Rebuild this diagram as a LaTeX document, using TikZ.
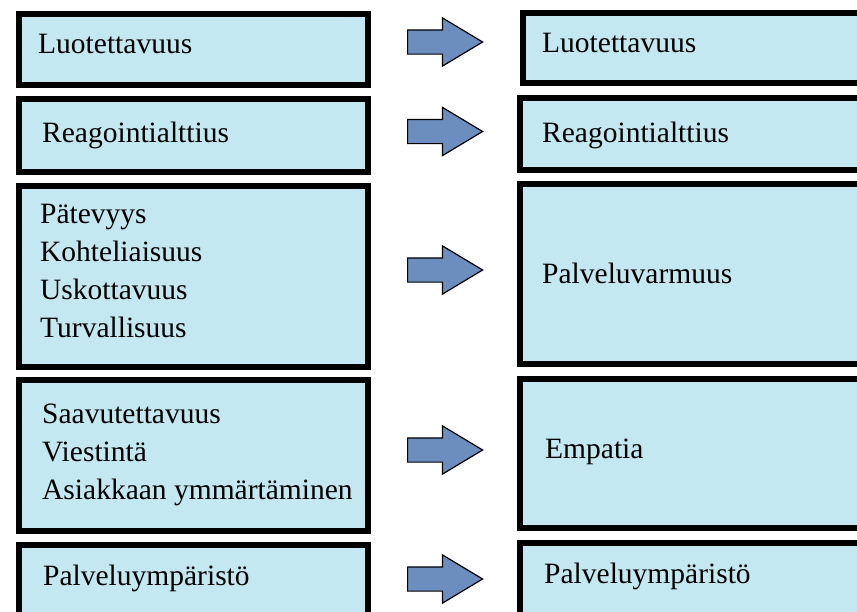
\documentclass[tikz,border=0pt]{standalone}
\usepackage{fontspec}
\setmainfont{Liberation Serif}
\usetikzlibrary{shapes.arrows}
\definecolor{boxfill}{RGB}{196,232,241}
\definecolor{arrowfill}{RGB}{108,142,191}
\begin{document}
\begin{tikzpicture}[x=1pt,y=-1pt,
  box/.style={draw=black, line width=6pt, fill=boxfill, rectangle, inner sep=0pt, anchor=north west},
  lbl/.style={anchor=base west, inner sep=0pt, font=\rmfamily\fontsize{29.5}{38}\selectfont},
  mlbl/.style={anchor=north west, inner sep=0pt, align=left, font=\rmfamily\fontsize{29.5}{38}\selectfont},
  blockarrow/.style={single arrow, draw=black, line width=1.2pt, fill=arrowfill, inner xsep=0pt, inner ysep=11.5pt, minimum height=75pt, single arrow head extend=12pt, single arrow tip angle=62, anchor=tail}]
\path[use as bounding box] (0,0) rectangle (857,611);
\clip (0,0) rectangle (857,611);
% left boxes
\node[box, minimum width=349pt, minimum height=71pt] (L1) at (16,11) {};
\node[box, minimum width=349pt, minimum height=73pt] (L2) at (16,96) {};
\node[box, minimum width=349pt, minimum height=181pt] (L3) at (16,183) {};
\node[box, minimum width=349pt, minimum height=151pt] (L4) at (16,377) {};
\node[box, minimum width=349pt, minimum height=80pt] (L5) at (16,542) {};
% right boxes
\node[box, minimum width=360pt, minimum height=70pt] (R1) at (520,10) {};
\node[box, minimum width=363pt, minimum height=72pt] (R2) at (517,95) {};
\node[box, minimum width=363pt, minimum height=180pt] (R3) at (517,181) {};
\node[box, minimum width=363pt, minimum height=149pt] (R4) at (517,376) {};
\node[box, minimum width=363pt, minimum height=80pt] (R5) at (517,540) {};
% arrows
\node[blockarrow] (A1) at (407,42) {};
\node[blockarrow] (A2) at (407,131.5) {};
\node[blockarrow] (A3) at (407,270) {};
\node[blockarrow] (A4) at (407,450) {};
\node[blockarrow] (A5) at (407,579) {};
% texts
\node[lbl] (t1) at (38,53) {Luotettavuus};
\node[lbl] (t2) at (42,142) {Reagointialttius};
\node[mlbl] (t3) at (40,202) {\rule{0pt}{21pt}Pätevyys\\Kohteliaisuus\\Uskottavuus\\Turvallisuus};
\node[mlbl] (t4) at (42,402) {\rule{0pt}{21pt}Saavutettavuus\\Viestintä\\Asiakkaan ymmärtäminen};
\node[lbl] (t5) at (43,585) {Palveluympäristö};
\node[lbl] (r1) at (542,52) {Luotettavuus};
\node[lbl] (r2) at (542,142) {Reagointialttius};
\node[lbl] (r3) at (542,283) {Palveluvarmuus};
\node[lbl] (r4) at (545,458) {Empatia};
\node[lbl] (r5) at (544,583) {Palveluympäristö};
\end{tikzpicture}
\end{document}
